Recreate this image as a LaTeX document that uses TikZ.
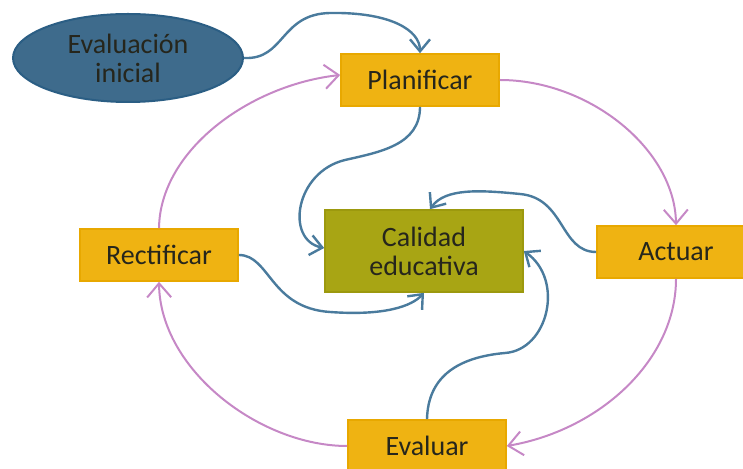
\documentclass[tikz,border=0pt]{standalone}
\usepackage{fontspec}
\setmainfont{Carlito}
\usetikzlibrary{shapes.geometric,arrows.meta}
\definecolor{boxfill}{HTML}{EFB312}
\definecolor{boxline}{HTML}{E8A800}
\definecolor{calfill}{HTML}{A8A514}
\definecolor{calline}{HTML}{9C990E}
\definecolor{ellfill}{HTML}{3E6B8C}
\definecolor{ellline}{HTML}{2B5E84}
\definecolor{azul}{HTML}{4A7B9D}
\definecolor{rosa}{HTML}{C688C6}
\definecolor{txt}{HTML}{26261C}
\begin{document}
\begin{tikzpicture}[x=0.5pt,y=-0.5pt,>={Straight Barb[length=6pt,width=10pt]},
  font=\fontsize{14}{14.5}\selectfont,
  etapa/.style={draw=boxline,fill=boxfill,line width=0.8pt,minimum width=79pt,minimum height=26pt,inner sep=0pt,text=txt},
  ciclo/.style={->,draw=rosa,line width=1pt,>={Straight Barb[length=7pt,width=12pt]}},
  enlace/.style={->,draw=azul,line width=1.2pt}]
\useasboundingbox (0,0) rectangle (743,469);
\node[ellipse,draw=ellline,fill=ellfill,line width=1pt,minimum width=115pt,minimum height=44pt,inner sep=0pt,align=center,text=txt] (ini) at (128,58) {Evaluación\\inicial};
\node[etapa] (pla) at (420,80) {Planificar};
\node[etapa] (act) at (676,252) {Actuar};
\node[etapa] (eva) at (427,446) {Evaluar};
\node[etapa] (rec) at (159,255) {Rectificar};
\node[draw=calline,fill=calfill,line width=0.8pt,minimum width=99pt,minimum height=41pt,inner sep=0pt,align=center,text=txt] (cal) at (424,251) {Calidad\\educativa};
% ciclo
\draw[ciclo] (pla.east) .. controls (590,80) and (675,150) .. (act.north);
\draw[ciclo] (act.south) .. controls (676,360) and (600,430) .. (eva.east);
\draw[ciclo] (eva.west) .. controls (260,446) and (160,370) .. (rec.south);
\draw[ciclo] (rec.north) .. controls (160,150) and (250,85) .. ([yshift=2.5pt]pla.west);
% enlaces con la calidad
\draw[enlace] (ini.east) .. controls (285,60) and (280,14) .. (330,13) .. controls (390,12) and (420,30) .. (pla.north);
\draw[enlace] (pla.south) .. controls (420,145) and (380,152) .. (345,160) .. controls (295,172) and (285,240) .. ([yshift=1.5pt]cal.west);
\draw[enlace] (act.west) .. controls (560,252) and (565,198) .. (520,194) .. controls (480,190) and (445,188) .. ([xshift=3pt]cal.north);
\draw[enlace] (eva.north) .. controls (428,375) and (460,357) .. (505,353) .. controls (548,350) and (565,280) .. (cal.east);
\draw[enlace] (rec.east) .. controls (270,255) and (270,308) .. (330,312) .. controls (385,316) and (412,306) .. (cal.south);
\end{tikzpicture}
\end{document}
